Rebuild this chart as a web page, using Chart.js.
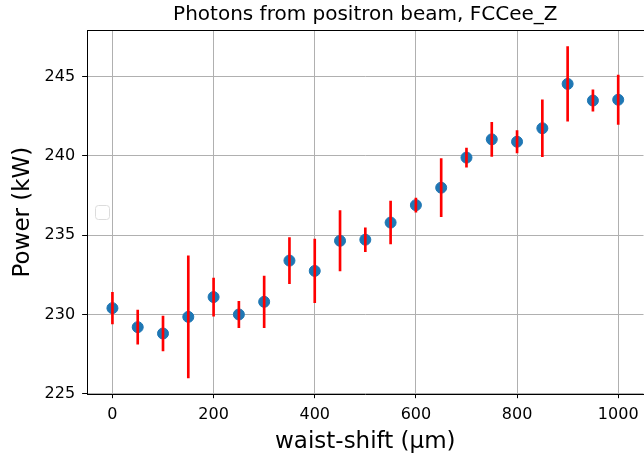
<!DOCTYPE html>
<html>
<head>
<meta charset="utf-8">
<script src="https://cdn.jsdelivr.net/npm/chart.js@4.4.0/dist/chart.umd.min.js"></script>
<style>
  html, body { margin: 0; padding: 0; overflow: hidden; background: #fff; }
</style>
</head>
<body>
<canvas id="chart" width="650" height="460"></canvas>
<script>
// waist shift in um, measured power in kW, and its error
const waistShift = [0, 50, 100, 150, 200, 250, 300, 350, 400, 450, 500,
                    550, 600, 650, 700, 750, 800, 850, 900, 950, 1000];
const power = [230.4, 229.2, 228.8, 229.85, 231.1, 230.0, 230.8, 233.4, 232.75, 234.65, 234.72,
               235.8, 236.9, 238.0, 239.9, 241.05, 240.9, 241.75, 244.55, 243.5, 243.55];
const powerErr = [1.0, 1.07, 1.1, 3.85, 1.2, 0.83, 1.63, 1.45, 2.0, 1.9, 0.75,
                  1.35, 0.45, 1.83, 0.6, 1.07, 0.7, 1.8, 2.35, 0.67, 1.56];
const xTickStep = 200;
const yTickStep = 5;

const FONT = "'DejaVu Sans', sans-serif";

// points and error bars built from the arrays above
const points = waistShift.map((x, i) => ({ x: x, y: power[i] }));
const errBars = waistShift.map((x, i) => ({ x: x, y: [power[i] - powerErr[i], power[i] + powerErr[i]] }));

// closes the box on top/right like matplotlib spines
const frame = {
  id: 'frame',
  afterDraw(chart) {
    const { ctx, chartArea: a } = chart;
    ctx.save();
    ctx.strokeStyle = '#000';
    ctx.lineWidth = 1;
    ctx.beginPath();
    ctx.moveTo(Math.round(a.left) + 0.5, Math.round(a.top) + 0.5);
    ctx.lineTo(Math.round(a.right) + 0.5, Math.round(a.top) + 0.5);
    ctx.lineTo(Math.round(a.right) + 0.5, Math.round(a.bottom) + 0.5);
    ctx.stroke();
    ctx.restore();
  }
};

// the empty legend box sitting at center-left
const emptyLegend = {
  id: 'emptyLegend',
  afterDatasetsDraw(chart) {
    const { ctx, chartArea: a } = chart;
    const cy = (a.top + a.bottom) / 2;
    const s = 14, x = Math.round(a.left + 8), y = Math.round(cy - s / 2), r = 3;
    ctx.save();
    ctx.fillStyle = 'rgba(255,255,255,0.8)';
    ctx.strokeStyle = '#dcdcdc';
    ctx.lineWidth = 1;
    ctx.beginPath();
    ctx.roundRect(x + 0.5, y + 0.5, s, s, r);
    ctx.fill();
    ctx.stroke();
    ctx.restore();
  }
};

new Chart(document.getElementById('chart'), {
  type: 'scatter',
  data: {
    datasets: [
      {
        type: 'bar',
        label: 'error',
        data: errBars,
        backgroundColor: '#ff0000',
        borderWidth: 0,
        barThickness: 2,
        grouped: false,
        order: 0
      },
      {
        type: 'scatter',
        label: 'power',
        data: points,
        backgroundColor: '#1f77b4',
        borderColor: '#1f77b4',
        pointRadius: 5.5,
        order: 1
      }
    ]
  },
  options: {
    responsive: false,
    animation: false,
    layout: { padding: { left: 9, right: 3, top: 0, bottom: 4 } },
    plugins: {
      legend: { display: false },
      tooltip: { enabled: false },
      title: {
        display: true,
        text: 'Photons from positron beam, FCCee_Z',
        fullSize: false,
        color: '#000',
        font: { family: FONT, size: 20, weight: 'normal' },
        padding: { top: 3, bottom: 3 }
      }
    },
    scales: {
      x: {
        type: 'linear',
        min: -50,
        max: 1050,
        offset: false,
        ticks: {
          stepSize: xTickStep,
          includeBounds: false,
          autoSkip: false,
          maxRotation: 0,
          color: '#000',
          font: { family: FONT, size: 16 },
          padding: 7,
          callback: v => String(v)
        },
        grid: { offset: false, color: '#b0b0b0', tickColor: '#000', tickLength: 4 },
        border: { color: '#000' },
        title: {
          display: true,
          text: 'waist-shift (μm)',
          color: '#000',
          font: { family: FONT, size: 23 },
          padding: { top: -3, bottom: 0 }
        }
      },
      y: {
        min: 224.97,
        max: 247.95,
        ticks: {
          stepSize: yTickStep,
          includeBounds: false,
          color: '#000',
          font: { family: FONT, size: 16 },
          padding: 7,
          callback: v => String(v)
        },
        grid: { color: '#b0b0b0', tickColor: '#000', tickLength: 5 },
        border: { color: '#000' },
        title: {
          display: true,
          text: 'Power (kW)',
          color: '#000',
          font: { family: FONT, size: 23 },
          padding: { top: 0, bottom: 1 }
        }
      }
    }
  },
  plugins: [frame, emptyLegend]
});
</script>
</body>
</html>
